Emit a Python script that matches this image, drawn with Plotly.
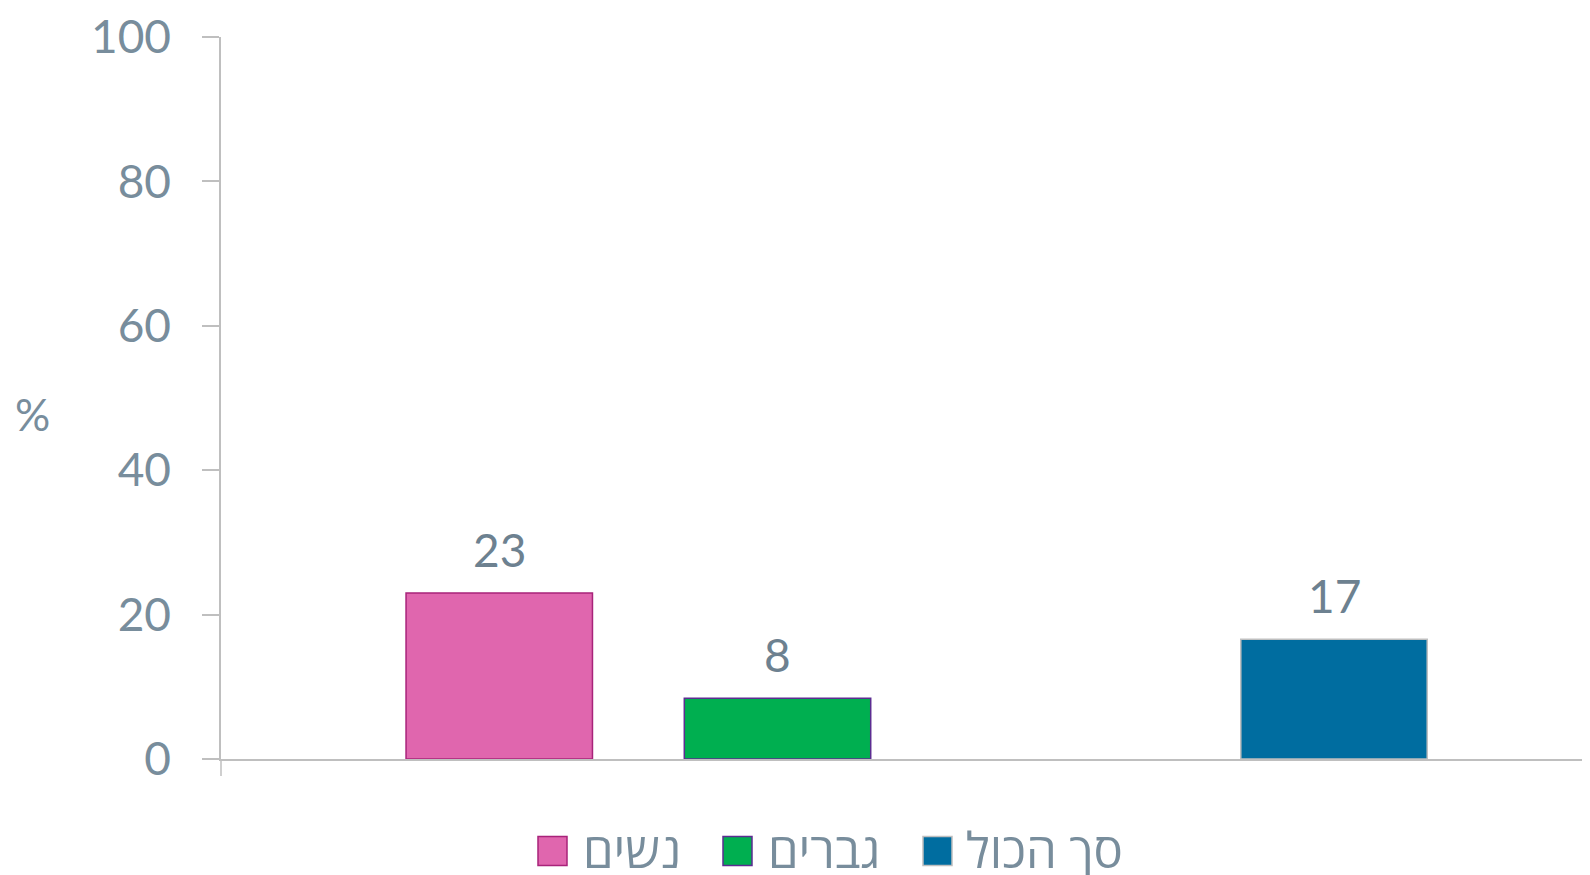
import plotly.graph_objects as go

# ---- data ----
series_names = ["נשים", "גברים", "סך הכול"]
series_values = [23.0, 8.4, 16.6]
slot_categories = ["נשים", "גברים", " ", "סך הכול"]  # empty slot between groups
fill_colors = ["#E066AE", "#00AF50", "#006DA0"]
line_colors = ["#A8237A", "#5C2D91", "#BFBFBF"]
y_ticks = [0, 20, 40, 60, 80, 100]
y_title = "%"

OFF = 8  # default page body margin
W, H = 1590 - OFF, 875 - OFF
L, R, T, B = 221 - OFF, 0, 33 - OFF, 116
PW, PH = W - L - R, H - T - B

def px2x(px):  # page pixel -> paper
    return (px - OFF - L) / PW

def px2y(py):
    return (H - B - (py - OFF)) / PH

TICK_COLOR = "#788D9C"
LABEL_COLOR = "#6D8190"
FONT = "Lato, Open Sans, DejaVu Sans, sans-serif"
HFONT = "Open Sans, DejaVu Sans, sans-serif"

fig = go.Figure()
for name, val, fc, lc in zip(series_names, series_values, fill_colors, line_colors):
    fig.add_trace(go.Bar(
        x=[name], y=[val], name=name, width=0.67,
        marker=dict(color=fc, line=dict(color=lc, width=1.5)),
        showlegend=False,
    ))
    fig.add_annotation(
        x=name, y=val, text=f"{val:.0f}", showarrow=False,
        yanchor="bottom", yshift=14,
        font=dict(family=FONT, size=46, color=LABEL_COLOR),
    )

# manual legend (large swatches as in reference)
legend_items = [
    (538, 567, 581),
    (723, 752, 766),
    (923, 952, 964),
]
for (sx0, sx1, tx), name, fc, lc in zip(legend_items, series_names, fill_colors, line_colors):
    fig.add_shape(type="rect", xref="paper", yref="paper",
                  x0=px2x(sx0), x1=px2x(sx1), y0=px2y(866), y1=px2y(837),
                  fillcolor=fc, line=dict(color=lc, width=1.5))
    fig.add_annotation(xref="paper", yref="paper", x=px2x(tx), y=px2y(850),
                       xanchor="left", yanchor="middle", text=name, showarrow=False,
                       font=dict(family=HFONT, size=49, color=TICK_COLOR))

# y-axis title
fig.add_annotation(xref="paper", yref="paper", x=px2x(32), y=px2y(412),
                   xanchor="center", yanchor="middle", text=y_title, showarrow=False,
                   font=dict(family=FONT, size=44, color=TICK_COLOR))

# small tick at left end of the category axis
fig.add_shape(type="line", xref="paper", yref="paper", x0=0, x1=0,
              y0=px2y(759), y1=px2y(776), line=dict(color="#BFBFBF", width=1.5))

fig.update_layout(
    width=W, height=H,
    margin=dict(l=L, r=R, t=T, b=B),
    plot_bgcolor="white", paper_bgcolor="white",
    barmode="overlay",
    font=dict(family=FONT, color=TICK_COLOR),
    xaxis=dict(
        type="category", categoryorder="array", categoryarray=slot_categories,
        range=[-1, 3.92], showticklabels=False, ticks="",
        showline=True, linecolor="#BFBFBF", linewidth=1.5,
        showgrid=False, zeroline=False, fixedrange=True,
    ),
    yaxis=dict(
        range=[0, 100], tickvals=y_ticks, ticks="outside", ticklen=17,
        tickcolor="#BFBFBF", tickwidth=1.5, ticklabelstandoff=22,
        ticklabeloverflow="allow",
        showline=True, linecolor="#BFBFBF", linewidth=1.5,
        showgrid=False, zeroline=False,
        tickfont=dict(family=FONT, size=46, color=TICK_COLOR),
    ),
)

fig.write_html("out.html")
